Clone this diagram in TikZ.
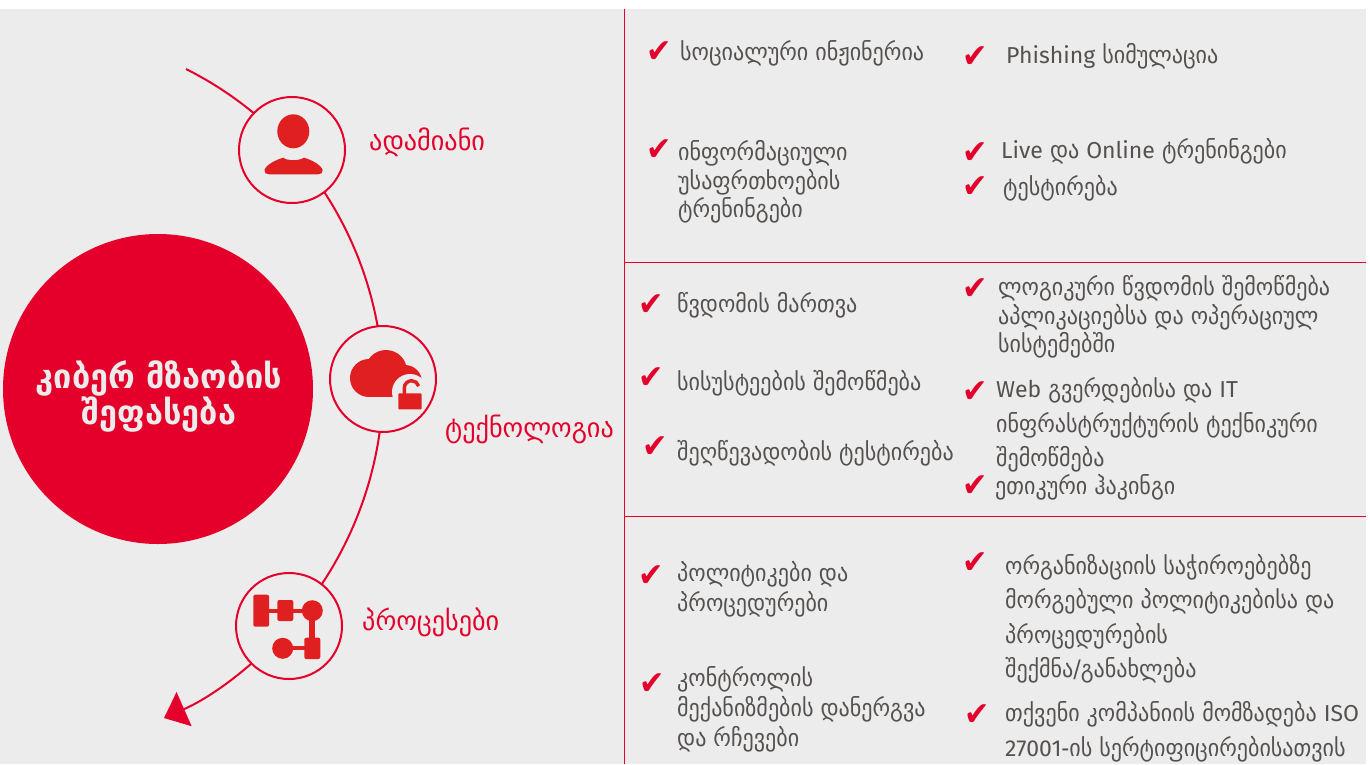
\documentclass[tikz,border=0pt]{standalone}
\usepackage{fontspec}
\setmainfont{DejaVu Sans}[FakeStretch=0.92]
\newfontfamily\labelfont{DejaVu Sans}[FakeStretch=0.97]
\newfontfamily\latinfont{Fira Sans}[Scale=0.96]
\usetikzlibrary{arrows.meta,positioning,backgrounds}
\definecolor{brandred}{HTML}{E4002B}
\definecolor{iconred}{HTML}{E02020}
\definecolor{panelgray}{HTML}{ECECEC}
\definecolor{bodytext}{HTML}{55514F}
\tikzset{%
    bigdisc/.style={%
        circle, fill=brandred, minimum size=310pt, inner sep=0pt
    },
    disctitle/.style={%
        text=panelgray, inner sep=0pt, align=center, font=\labelfont\fontsize{33.5}{36}\selectfont\bfseries
    },
    stage/.style={%
        circle, draw=brandred, line width=2pt, fill=panelgray, minimum size=106pt, inner sep=0pt
    },
    stagelabel/.style={%
        anchor=west, text=brandred, inner sep=0pt, yshift=-1pt, font=\labelfont\fontsize{27}{30}\selectfont
    },
    flow/.style={%
        draw=brandred, line width=2pt, looseness=0.87
    },
    divider/.style={%
        draw=brandred, line width=0.9pt
    },
    tick/.style={%
        text=brandred, inner sep=0pt, font=\fontsize{33}{33}\selectfont
    },
    item/.style={%
        anchor=west, text=bodytext, inner sep=0pt, yshift=-1pt, align=left, font=\fontsize{24}{28.5}\selectfont
    },
    wideitem/.style={%
        item, font=\fontsize{24}{34.5}\selectfont
    },
    looseitem/.style={%
        item, font=\fontsize{24}{30}\selectfont
    },
}
\begin{document}
\begin{tikzpicture}[x=1pt,y=-1pt]

    \useasboundingbox (0,0) rectangle (1370,764);

    % left side
    \node[bigdisc] (readiness) at (158,389) {};
    \node[disctitle] (readinesstitle) at (159,396) {კიბერ მზაობის\\შეფასება};

    \coordinate (arcstart) at (186,69);
    \coordinate (arcend) at (164,718);
    \node[stage] (human) at (292,150) {};
    \node[stage] (tech) at (383,379) {};
    \node[stage] (process) at (289,626) {};

    \begin{scope}[on background layer]
      \fill[white] (0,0) rectangle (1370,764);
      \fill[panelgray] (0,9) rectangle (1366,764);
      \draw[flow] (arcstart) to[bend left=10.7] (human.center);
      \draw[flow] (human.center) to[bend left=20.2] (tech.center);
      \draw[flow] (tech.center) to[bend left=21.7] (process.center);
      \draw[flow, -{Triangle[length=22pt,width=37pt]}] (process.center) to[bend left=12.5] (arcend);
    \end{scope}

    \node[stagelabel] (humanlabel) at (369,141) {ადამიანი};
    \node[stagelabel] (techlabel) at (445,428) {ტექნოლოგია};
    \node[stagelabel] (processlabel) at (362,621) {პროცესები};

    % person icon
    \begin{scope}[iconred]
      \fill (293.3,131.3) ellipse [x radius=16, y radius=17];
      \fill (264.5,170) .. controls (266,165) and (275,160) .. (283.3,157.7)
        .. controls (287,161) and (299,161) .. (304,157.7)
        .. controls (312,160) and (321,165) .. (322.7,170)
        .. controls (323,173) and (321,174.3) .. (318,174.3)
        -- (269,174.3) .. controls (266,174.3) and (264,173) .. (264.5,170) -- cycle;
    \end{scope}

    % cloud icon
    \begin{scope}[iconred]
      \fill (369,378) circle (19);
      \fill (386,371) circle (21);
      \fill (405,382) circle (17);
      \fill (369,375) rectangle (405,397.3);
      \fill[panelgray] (410,392) circle (18);
      \fill[rounded corners=1pt] (398.3,393.3) rectangle (421.7,409.3);
      \draw[line width=3.4pt] (404.3,394) -- (404.3,388) arc[start angle=180, end angle=345, radius=7.3];
    \end{scope}

    % process icon
    \begin{scope}[iconred]
      \fill[rounded corners=2pt] (253.3,594.7) rectangle (269,626.7);
      \fill[rounded corners=2pt] (277.3,600) rectangle (293.3,621);
      \fill (312.3,610.7) circle (10.5);
      \fill (269,608.7) rectangle (305,612.7);
      \fill (309.3,615) rectangle (315.3,640);
      \fill[rounded corners=2pt] (304.3,637.7) rectangle (320.3,659);
      \fill (282.7,648.3) circle (10.5);
      \fill (285,646.3) rectangle (306,650.3);
    \end{scope}

    % panels
    \coordinate (panetop) at (624,9);
    \coordinate (panebottom) at (624,764);
    \coordinate (rowoneleft) at (624,262);
    \coordinate (rowoneright) at (1366,262);
    \coordinate (rowtwoleft) at (624,516);
    \coordinate (rowtworight) at (1366,516);
    \draw[divider] (panetop) -- (panebottom);
    \draw[divider] (rowoneleft) -- (rowoneright);
    \draw[divider] (rowtwoleft) -- (rowtworight);

    % first row
    \node[tick] (tickA) at (659,52) {✔};
    \node[item] (social) at (680,52) {სოციალური ინჟინერია};
    \node[tick] (tickB) at (975,57) {✔};
    \node[item] (phishing) at (1006,55) {{\latinfont Phishing} სიმულაცია};
    \node[tick] (tickC) at (659,150) {✔};
    \node[item] (awareness) at (678,181) {ინფორმაციული\\უსაფრთხოების\\ტრენინგები};
    \node[tick] (tickD) at (975,153) {✔};
    \node[item] (live) at (1001,150) {{\latinfont Live} და {\latinfont Online} ტრენინგები};
    \node[tick] (tickE) at (975,187) {✔};
    \node[item] (testing) at (1003,187) {ტესტირება};

    % second row
    \node[tick] (tickF) at (651,305) {✔};
    \node[item] (access) at (677,304) {წვდომის მართვა};
    \node[tick] (tickG) at (651,378) {✔};
    \node[item] (vuln) at (677,382) {სისუსტეების შემოწმება};
    \node[tick] (tickH) at (655,447) {✔};
    \node[item] (pentest) at (677,452) {შეღწევადობის ტესტირება};
    \node[tick] (tickI) at (975,289) {✔};
    \node[item] (logical) at (998,316) {ლოგიკური წვდომის შემოწმება\\აპლიკაციებსა და ოპერაციულ\\სისტემებში};
    \node[tick] (tickJ) at (975,392) {✔};
    \node[wideitem] (web) at (996,424) {{\latinfont Web} გვერდებისა და {\latinfont IT}\\ინფრასტრუქტურის ტექნიკური\\შემოწმება};
    \node[tick] (tickK) at (975,486) {✔};
    \node[item] (hacking) at (995,486) {ეთიკური ჰაკინგი};

    % third row
    \node[tick] (tickL) at (651,576) {✔};
    \node[looseitem] (policies) at (677,588) {პოლიტიკები და\\პროცედურები};
    \node[tick] (tickM) at (652,684) {✔};
    \node[looseitem] (controls) at (677,708) {კონტროლის\\მექანიზმების დანერგვა\\და რჩევები};
    \node[tick] (tickN) at (975,563) {✔};
    \node[wideitem] (tailored) at (1005,618) {ორგანიზაციის საჭიროებებზე\\მორგებული პოლიტიკებისა და\\პროცედურების\\შექმნა/განახლება};
    \node[tick] (tickO) at (977,715) {✔};
    \node[wideitem] (iso) at (1005,731) {თქვენი კომპანიის მომზადება {\latinfont ISO}\\{\latinfont 27001}-ის სერტიფიცირებისათვის};

\end{tikzpicture}
\end{document}
